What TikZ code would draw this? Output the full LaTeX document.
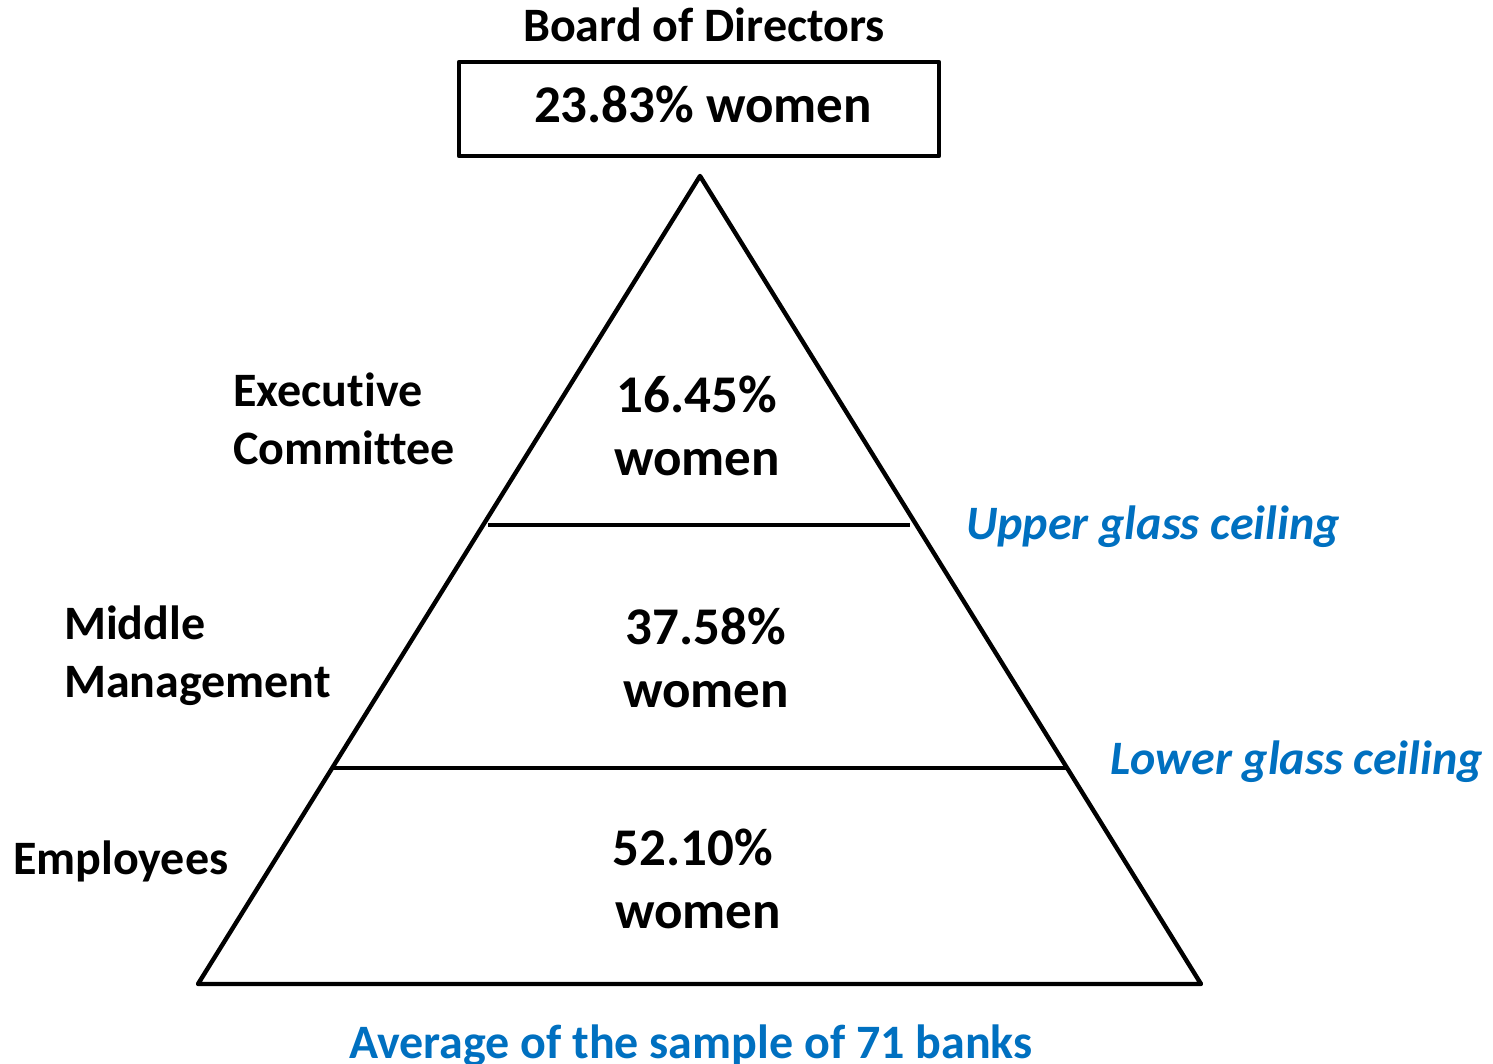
\documentclass[tikz,border=0pt]{standalone}
\usepackage{fontspec}
\setmainfont[Ligatures={NoCommon}]{Carlito}
\definecolor{ceilblue}{RGB}{0,112,192}
\begin{document}
\begin{tikzpicture}[x=1pt,y=-1pt,
  frame/.style={draw=black,line width=4.4pt,line join=round},
  lbl/.style={inner sep=0pt,font=\bfseries\fontsize{48}{56}\selectfont},
  pct/.style={inner sep=0pt,font=\bfseries\fontsize{53}{62}\selectfont},
  ceil/.style={inner sep=0pt,text=ceilblue,font=\bfseries\itshape\fontsize{48}{56}\selectfont}]
\useasboundingbox (0,0) rectangle (1493,1064);
% board box
\node[frame,minimum width=480pt,minimum height=94pt,inner sep=0pt] (board) at (699,109) {};
\node[pct,anchor=base] (boardtxt) at (703,123) {23.83\% women};
\node[lbl,anchor=base] (boardlbl) at (704,42) {Board of Directors};
% pyramid
\coordinate (apex) at (700,176);
\coordinate (bl) at (198,984);
\coordinate (br) at (1201,984);
\draw[frame] (apex) -- (bl) -- (br) -- cycle;
\coordinate (ul) at (488,525);
\coordinate (ur) at (910,525);
\coordinate (ll) at (333,768);
\coordinate (lr) at (1067,768);
\draw[frame,line cap=butt] (ul) -- (ur);
\draw[frame,line cap=butt] (ll) -- (lr);
% shares of women per level
\node[pct,anchor=base] (exec1) at (697,412) {16.45\%};
\node[pct,anchor=base] (exec2) at (697,475) {women};
\node[pct,anchor=base] (mid1) at (706,644) {37.58\%};
\node[pct,anchor=base] (mid2) at (706,707) {women};
\node[pct,anchor=base] (emp1) at (693,865) {52.10\%};
\node[pct,anchor=base] (emp2) at (698,928) {women};
% level names
\node[lbl,anchor=base west] (execA) at (233,406) {Executive};
\node[lbl,anchor=base west] (execB) at (233,464) {Committee};
\node[lbl,anchor=base west] (midA) at (64,639) {Middle};
\node[lbl,anchor=base west] (midB) at (64,697) {Management};
\node[lbl,anchor=base west] (empA) at (13,874) {Employees};
% ceilings
\node[ceil,anchor=base west] (upper) at (966,539) {Upper glass ceiling};
\node[ceil,anchor=base west] (lower) at (1110,774) {Lower glass ceiling};
\node[ceil,font=\bfseries\fontsize{48}{56}\selectfont,anchor=base] (avg) at (691,1058) {Average of the sample of 71 banks};
\end{tikzpicture}
\end{document}
